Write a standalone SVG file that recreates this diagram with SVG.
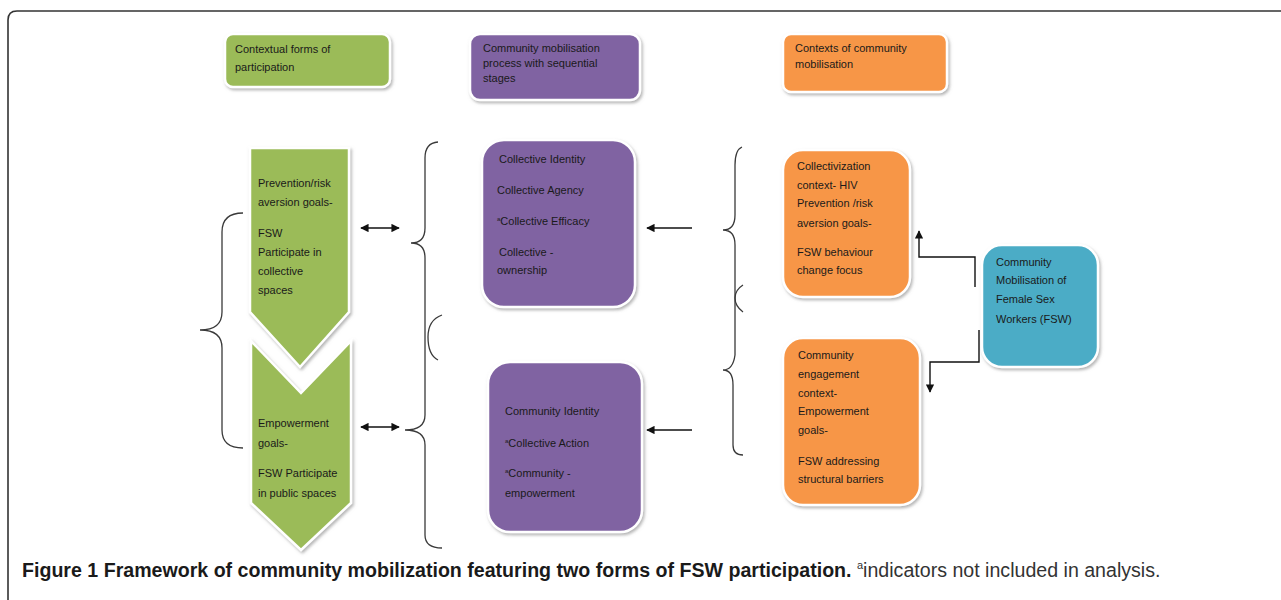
<svg xmlns="http://www.w3.org/2000/svg" width="1281" height="600" viewBox="0 0 1281 600">
<defs>
<style>
.t{font-family:"Liberation Sans",Arial,sans-serif;font-size:11px;fill:#1a1a1a}
.box{stroke:#fff;stroke-width:2.5}
.br{fill:none;stroke:#3a3a3a;stroke-width:1.3}
.cn{fill:none;stroke:#111;stroke-width:1.4}
.g{fill:#9BBB59}.p{fill:#8064A2}.o{fill:#F79646}.b{fill:#4BACC6}
.cap{font-family:"Liberation Sans",Arial,sans-serif;font-size:19.6px}
</style>
<filter id="sh" x="-10%" y="-10%" width="130%" height="130%">
<feDropShadow dx="1.5" dy="2" stdDeviation="1.5" flood-color="#777" flood-opacity="0.55"/>
</filter>
<marker id="ah" viewBox="0 0 10 10" refX="9" refY="5" markerWidth="6" markerHeight="6" orient="auto-start-reverse">
<path d="M0,0 L10,5 L0,10 z" fill="#111"/>
</marker>
</defs>
<rect width="1281" height="600" fill="#fff"/>
<path d="M8,600 V20 Q8,11 17,11 H1281" fill="none" stroke="#333" stroke-width="1.6"/>

<g id="hdr-green">
<rect class="box g" x="225" y="34" width="165" height="53" rx="8" filter="url(#sh)"/>
<text class="t" x="235" y="53">Contextual forms of</text>
<text class="t" x="235" y="71">participation</text>
</g>
<g id="hdr-purple">
<rect class="box p" x="470" y="34" width="170" height="66" rx="10" filter="url(#sh)"/>
<text class="t" x="483" y="52">Community mobilisation</text>
<text class="t" x="483" y="67">process with sequential</text>
<text class="t" x="483" y="82">stages</text>
</g>
<g id="hdr-orange">
<rect class="box o" x="783" y="34" width="164" height="58" rx="8" filter="url(#sh)"/>
<text class="t" x="795" y="52">Contexts of community</text>
<text class="t" x="795" y="68">mobilisation</text>
</g>

<g id="chevron-top">
<polygon class="box g" points="250,148 349,148 349,312 300,367 250,312" filter="url(#sh)"/>
<text class="t" x="258" y="187">Prevention/risk</text>
<text class="t" x="258" y="206">aversion goals-</text>
<text class="t" x="258" y="237">FSW</text>
<text class="t" x="258" y="256">Participate in</text>
<text class="t" x="258" y="275">collective</text>
<text class="t" x="258" y="294">spaces</text>
</g>
<g id="chevron-bottom">
<polygon class="box g" points="251,341 301,393 351,341 351,503 301,550 251,503" filter="url(#sh)"/>
<text class="t" x="258" y="427">Empowerment</text>
<text class="t" x="258" y="447">goals-</text>
<text class="t" x="258" y="477">FSW Participate</text>
<text class="t" x="258" y="497">in public spaces</text>
</g>

<g id="purple-1">
<rect class="box p" x="482" y="140" width="153" height="167" rx="22" filter="url(#sh)"/>
<text class="t" x="499" y="163">Collective Identity</text>
<text class="t" x="497" y="194">Collective Agency</text>
<text class="t" x="497" y="225"><tspan font-size="6" dy="-4">a</tspan><tspan dy="4">Collective Efficacy</tspan></text>
<text class="t" x="499" y="256">Collective -</text>
<text class="t" x="497" y="274">ownership</text>
</g>
<g id="purple-2">
<rect class="box p" x="488" y="362" width="154" height="170" rx="22" filter="url(#sh)"/>
<text class="t" x="505" y="415">Community Identity</text>
<text class="t" x="505" y="447"><tspan font-size="6" dy="-4">a</tspan><tspan dy="4">Collective Action</tspan></text>
<text class="t" x="505" y="477"><tspan font-size="6" dy="-4">a</tspan><tspan dy="4">Community -</tspan></text>
<text class="t" x="505" y="497">empowerment</text>
</g>

<g id="orange-1">
<rect class="box o" x="783" y="150" width="127" height="147" rx="20" filter="url(#sh)"/>
<text class="t" x="797" y="170">Collectivization</text>
<text class="t" x="797" y="189">context- HIV</text>
<text class="t" x="797" y="207">Prevention /risk</text>
<text class="t" x="797" y="227">aversion goals-</text>
<text class="t" x="797" y="256">FSW behaviour</text>
<text class="t" x="797" y="274">change focus</text>
</g>
<g id="orange-2">
<rect class="box o" x="783" y="338" width="137" height="167" rx="20" filter="url(#sh)"/>
<text class="t" x="798" y="359">Community</text>
<text class="t" x="798" y="378">engagement</text>
<text class="t" x="798" y="397">context-</text>
<text class="t" x="798" y="415">Empowerment</text>
<text class="t" x="798" y="434">goals-</text>
<text class="t" x="798" y="465">FSW addressing</text>
<text class="t" x="798" y="483">structural barriers</text>
</g>
<g id="blue">
<rect class="box b" x="982" y="245" width="116" height="122" rx="20" filter="url(#sh)"/>
<text class="t" x="996" y="266">Community</text>
<text class="t" x="996" y="284">Mobilisation of</text>
<text class="t" x="996" y="303">Female Sex</text>
<text class="t" x="996" y="323">Workers (FSW)</text>
</g>

<g id="braces">
<path class="br" d="M243,213 Q222,213 222,232 V312 Q222,330 200,330 Q222,330 222,348 V430 Q222,448 243,448"/>
<path class="br" d="M438,142 Q425,143 425,158 V228 Q425,243 411,243 Q425,243 425,258 V415 Q425,430 405,430 Q425,430 425,445 V535 Q425,548 442,548"/>
<path class="br" d="M442,315 Q428,320 428,337 Q428,355 438,360"/>
<path class="br" d="M742,147 Q735,150 735,165 V215 Q735,230 723,230 Q735,230 735,245 V355 Q733,370 723,370 Q733,370 733,385 V445 Q733,455 743,455"/>
<path class="br" d="M743,285 Q735,290 735,298 Q735,306 743,312"/>
</g>

<g id="connectors">
<path class="cn" d="M361,228 H399" marker-start="url(#ah)" marker-end="url(#ah)"/>
<path class="cn" d="M361,427 H399" marker-start="url(#ah)" marker-end="url(#ah)"/>
<path class="cn" d="M692,228 H647" marker-end="url(#ah)"/>
<path class="cn" d="M692,430 H647" marker-end="url(#ah)"/>
<path class="cn" d="M975,287 V257 H919 V231" marker-end="url(#ah)"/>
<path class="cn" d="M979,330 V362 H930 V392" marker-end="url(#ah)"/>
</g>

<g id="caption">
<text class="cap" x="22" y="577"><tspan font-weight="bold" fill="#1a1a1a">Figure 1 Framework of community mobilization featuring two forms of FSW participation.</tspan><tspan fill="#333"> </tspan><tspan fill="#333" font-size="11" dy="-8">a</tspan><tspan fill="#333" dy="8">indicators not included in analysis.</tspan></text>
</g>
</svg>
